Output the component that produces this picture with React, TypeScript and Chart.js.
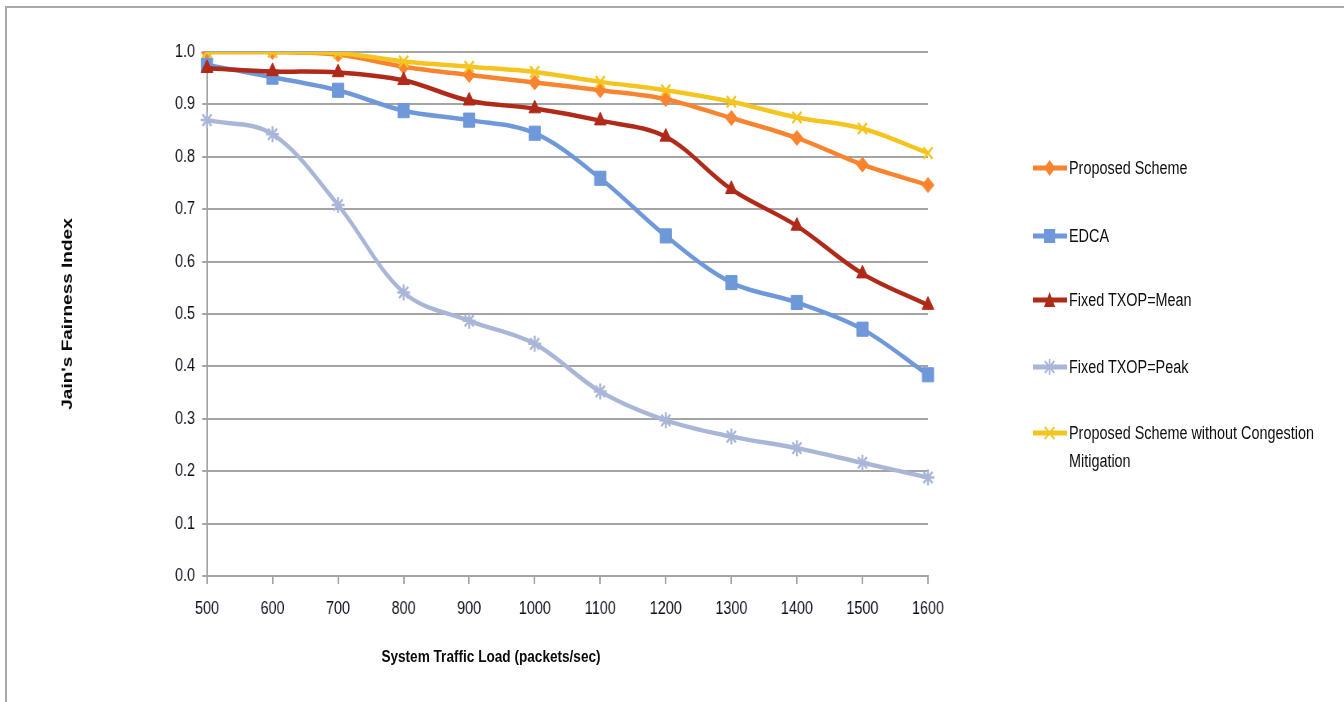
import React, { useEffect, useRef } from 'react';
import { Chart, registerables } from 'chart.js';

Chart.register(...registerables);

const loads = ['500', '600', '700', '800', '900', '1000', '1100', '1200', '1300', '1400', '1500', '1600'];
const proposed = [1.0, 1.0, 0.995, 0.972, 0.956, 0.942, 0.927, 0.91, 0.874, 0.836, 0.785, 0.746];
const edca = [0.975, 0.952, 0.927, 0.888, 0.87, 0.845, 0.759, 0.649, 0.56, 0.522, 0.471, 0.384];
const fixedMean = [0.969, 0.963, 0.961, 0.946, 0.907, 0.892, 0.869, 0.838, 0.738, 0.668, 0.577, 0.517];
const fixedPeak = [0.87, 0.843, 0.708, 0.541, 0.487, 0.443, 0.352, 0.297, 0.266, 0.244, 0.216, 0.188];
const noCongestion = [1.0, 1.0, 0.998, 0.982, 0.972, 0.962, 0.943, 0.927, 0.905, 0.875, 0.854, 0.807];

const seriesNames = [
  'Proposed Scheme',
  'EDCA',
  'Fixed TXOP=Mean',
  'Fixed TXOP=Peak',
  'Proposed Scheme without Congestion Mitigation',
];
const colors = ['#F8842F', '#6E98DA', '#B02A19', '#AAB6D8', '#F4C520'];
const markers = ['rectRot', 'rect', 'triangle', 'star', 'crossRot'];
const radii = [7.5, 10, 8.5, 8, 8];

const xTitle = 'System Traffic Load (packets/sec)';
const yTitle = "Jain's Fairness Index";

// the whole figure is drawn wide and squeezed horizontally, like the reference
const SX = 0.8;
const W = 1344 / SX; // 1680
const FONT = '"Liberation Sans", Arial, sans-serif';
const GRID = '#a4a4a4';

function MarkerIcon({ idx }: { idx: number }) {
  const c = colors[idx];
  const m = markers[idx];
  let shape: any = null;
  if (m === 'rectRot') shape = <polygon points="21,2 28,10 21,18 14,10" fill={c} />;
  else if (m === 'rect') shape = <rect x={14} y={3} width={14} height={14} fill={c} />;
  else if (m === 'triangle') shape = <polygon points="21,2 28,17 14,17" fill={c} />;
  else if (m === 'star')
    shape = (
      <g stroke={c} strokeWidth={2}>
        <line x1={21} y1={2} x2={21} y2={18} />
        <line x1={15} y1={4} x2={27} y2={16} />
        <line x1={27} y1={4} x2={15} y2={16} />
      </g>
    );
  else
    shape = (
      <g stroke={c} strokeWidth={2}>
        <line x1={15} y1={4} x2={27} y2={16} />
        <line x1={27} y1={4} x2={15} y2={16} />
      </g>
    );
  return (
    <svg width={43} height={20} style={{ display: 'block' }}>
      <line x1={0} y1={10} x2={43} y2={10} stroke={c} strokeWidth={5} />
      {shape}
    </svg>
  );
}

export default function App() {
  const ref = useRef<HTMLCanvasElement | null>(null);

  useEffect(() => {
    if (!ref.current) return;
    const series = [proposed, edca, fixedMean, fixedPeak, noCongestion];
    const orders = [5, 4, 3, 2, 1];
    const chart = new Chart(ref.current, {
      type: 'line',
      data: {
        labels: loads,
        datasets: series.map((d, i) => ({
          label: seriesNames[i],
          data: d,
          borderColor: colors[i],
          backgroundColor: colors[i],
          pointBackgroundColor: colors[i],
          pointBorderColor: colors[i],
          pointBorderWidth: markers[i] === 'star' || markers[i] === 'crossRot' ? 2.5 : 1,
          pointStyle: markers[i] as any,
          pointRadius: radii[i],
          borderWidth: 4.5,
          tension: 0.35,
          fill: false,
          order: orders[i],
        })),
      },
      options: {
        animation: false,
        responsive: false,
        maintainAspectRatio: false,
        layout: { padding: { top: 52, right: W - 928 / SX, left: 0, bottom: 0 } },
        plugins: {
          legend: { display: false },
          tooltip: { enabled: false },
        },
        scales: {
          x: {
            type: 'category',
            grid: {
              drawOnChartArea: false,
              drawTicks: true,
              tickLength: 8,
              color: GRID,
              lineWidth: 2,
            },
            border: { color: GRID, width: 2 },
            ticks: {
              padding: 14,
              color: '#0e0e1c',
              maxRotation: 0,
              autoSkip: false,
              font: { family: FONT, size: 18 },
            },
            afterFit: (s: any) => {
              s.height = 126;
            },
          },
          y: {
            min: 0,
            max: 1,
            grid: { color: GRID, lineWidth: 2, tickLength: 6, drawTicks: true },
            border: { color: GRID, width: 2 },
            ticks: {
              stepSize: 0.1,
              padding: 9,
              color: '#0e0e1c',
              font: { family: FONT, size: 18 },
              callback: (v: any) => Number(v).toFixed(1),
            },
            title: {
              display: true,
              text: yTitle,
              color: '#0a0a0a',
              font: { family: FONT, weight: 'bold', size: 19 },
              padding: { top: 73, bottom: 0 },
            },
            afterFit: (s: any) => {
              s.width = 207 / SX;
            },
          },
        },
      } as any,
    });
    return () => chart.destroy();
  }, []);

  const legendTops = [168, 236, 300, 367, 433];

  return (
    <div style={{ position: 'fixed', left: 0, top: 0, width: 1344, height: 702, background: '#fff', overflow: 'hidden' }}>
      <div
        style={{
          position: 'absolute',
          left: 5,
          top: 6,
          right: -10,
          bottom: -10,
          borderLeft: '2px solid #a9a9a9',
          borderTop: '2px solid #a9a9a9',
        }}
      />
      <div
        style={{
          position: 'absolute',
          left: 0,
          top: 0,
          width: W,
          height: 702,
          transform: `scaleX(${SX})`,
          transformOrigin: '0 0',
        }}
      >
        <canvas ref={ref} width={W} height={702} style={{ position: 'absolute', left: 0, top: 0, display: 'block' }} />
        <div
          style={{
            position: 'absolute',
            left: 491 / SX,
            top: 657,
            transform: 'translate(-50%, -50%)',
            whiteSpace: 'nowrap',
            fontFamily: FONT,
            fontWeight: 'bold',
            fontSize: 17,
            color: '#0a0a0a',
          }}
        >
          {xTitle}
        </div>
        {seriesNames.map((name, i) => (
          <div
            key={name}
            style={{
              position: 'absolute',
              left: 1033 / SX,
              top: legendTops[i] - 14,
              display: 'flex',
              alignItems: 'flex-start',
            }}
          >
            <div style={{ marginTop: 4 }}>
              <MarkerIcon idx={i} />
            </div>
            <div
              style={{
                marginLeft: 2,
                width: 330,
                fontFamily: FONT,
                fontSize: 18,
                lineHeight: '28px',
                color: '#0e0e0e',
              }}
            >
              {name}
            </div>
          </div>
        ))}
      </div>
    </div>
  );
}
